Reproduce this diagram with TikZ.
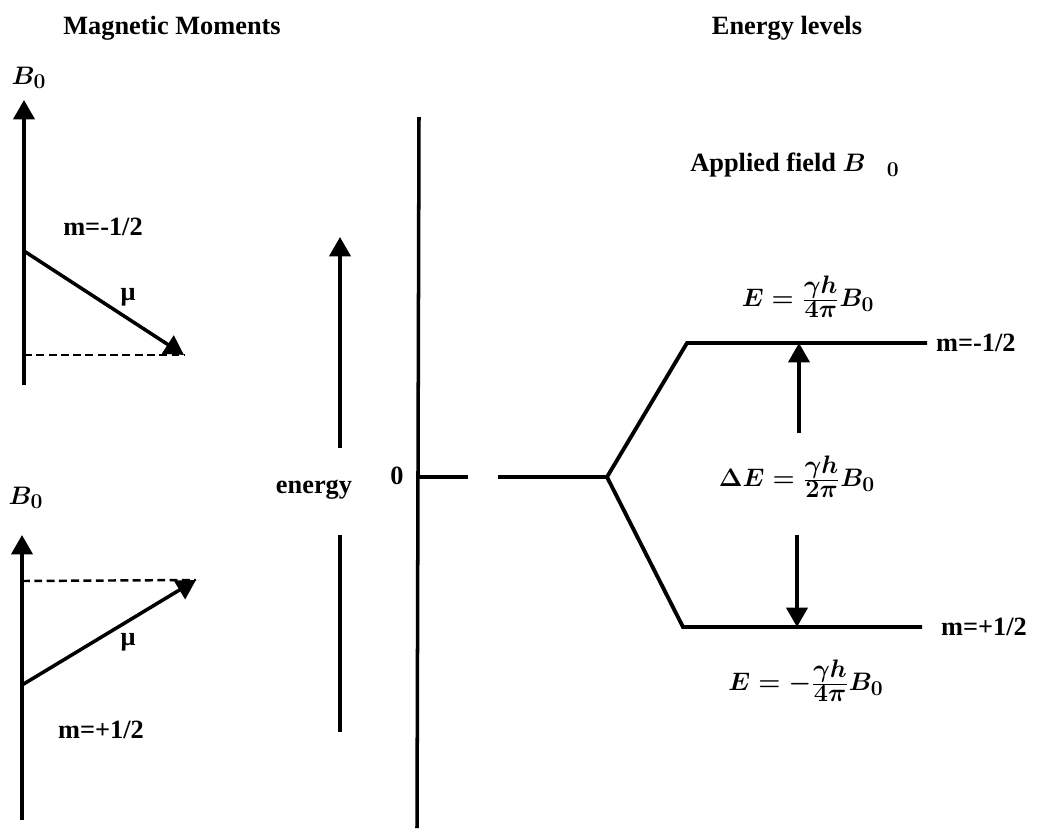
\documentclass[tikz,border=0pt]{standalone}
\usepackage{fontspec}
\usepackage{amsmath}
\setmainfont{Liberation Serif}
\DeclareMathSizes{15}{15}{12.5}{10}
\usetikzlibrary{arrows.meta,positioning,calc}
\newcommand{\ffrac}[2]{\frac{\textstyle #1}{\textstyle #2}}

\begin{document}
\begin{tikzpicture}[
  x=0.02cm,y=-0.02cm,
  every node/.style={font=\bfseries\fontsize{15}{18}\selectfont,inner sep=1pt},
  formula/.style={font=\bfseries\boldmath\fontsize{15}{18}\selectfont},
  axis/.style={line width=2pt},
  arrow/.style={line width=2pt,-{Triangle[width=12pt,length=11pt]}},
  proj/.style={line width=1.4pt,dash pattern=on 4.5pt off 2.5pt},
  level/.style={line width=2.2pt,line join=miter}
]
  \useasboundingbox (0,0) rectangle (1039,833);

  % titles
  \node (mmtitle) at (172,28) {Magnetic Moments};
  \node (eltitle) at (787,28) {Energy levels};

  % moment m=-1/2
  \coordinate (ax1bot) at (24,385);
  \coordinate (ax1top) at (24,100);
  \coordinate (mu1start) at (24,251);
  \coordinate (mu1end) at (184,355);
  \coordinate (pr1) at (24,355);
  \node[formula] (b1) at (29,78) {$B_0$};
  \node (m1) at (103,227) {m=-1/2};
  \node (mu1lab) at (128,297) {μ};
  \draw[arrow] (ax1bot) -- (ax1top);
  \draw[proj] (pr1) -- (mu1end);
  \draw[arrow] (mu1start) -- (mu1end);

  % moment m=+1/2
  \coordinate (ax2bot) at (22,820);
  \coordinate (ax2top) at (22,535);
  \coordinate (mu2start) at (22,685);
  \coordinate (mu2end) at (196,580);
  \coordinate (pr2) at (22,581);
  \node[formula] (b2) at (26,498) {$B_0$};
  \node (m2) at (101,730) {m=+1/2};
  \node (mu2lab) at (128,642) {μ};
  \draw[arrow] (ax2bot) -- (ax2top);
  \draw[proj] (pr2) -- (mu2end);
  \draw[arrow] (mu2start) -- (mu2end);

  % energy axis
  \coordinate (enbot) at (340,732);
  \coordinate (engapb) at (340,535);
  \coordinate (engapt) at (340,448);
  \coordinate (entop) at (340,237);
  \node (energy) at (314,490) {energy};
  \draw[axis] (enbot) -- (engapb);
  \draw[arrow] (engapt) -- (entop);

  % levels
  \coordinate (axtop) at (419,117);
  \coordinate (axbot) at (417,828);
  \node (zero) at (397,476) {0};
  \draw[axis] (axtop) -- (axbot);
  \coordinate (z0) at (418,477);
  \coordinate (z1) at (468,477);
  \coordinate (z2) at (498,477);
  \coordinate (split) at (607,477);
  \coordinate (up1) at (687,343);
  \coordinate (up2) at (927,343);
  \coordinate (lo1) at (683,627);
  \coordinate (lo2) at (922,627);
  \draw[level] (z0) -- (z1);
  \draw[level] (z2) -- (split);
  \draw[level] (up2) -- (up1) -- (split) -- (lo1) -- (lo2);

  \node[formula] (applied) at (795,165) {Applied field $B$\hspace{12pt}$_0$};
  \node[anchor=west] (mup) at (934,343) {m=-1/2};
  \node[anchor=west] (mlo) at (939,627) {m=+1/2};
  \node[formula] (eup) at (808,297) {$E=\ffrac{\gamma h}{4\pi}B_0$};
  \node[formula] (de) at (797,477) {$\Delta E=\ffrac{\gamma h}{2\pi}B_0$};
  \node[formula] (elo) at (806,681) {$E=-\ffrac{\gamma h}{4\pi}B_0$};

  \coordinate (dea) at (799,433);
  \coordinate (deb) at (797,535);
  \draw[arrow] (dea) -- (dea |- up1);
  \draw[arrow] (deb) -- (deb |- lo1);
\end{tikzpicture}
\end{document}
